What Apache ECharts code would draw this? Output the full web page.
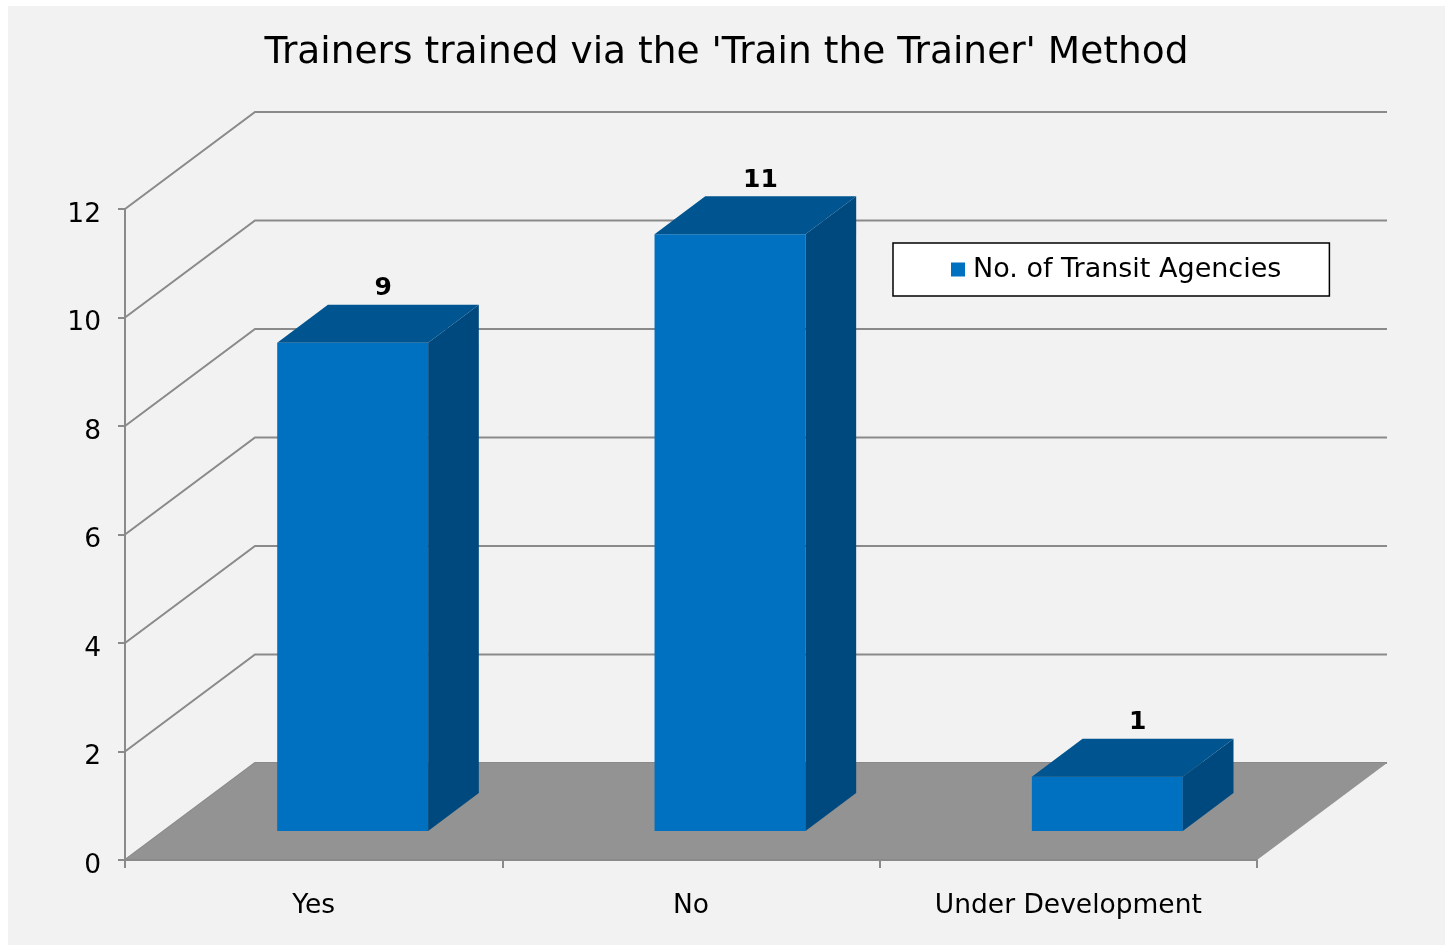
<!DOCTYPE html>
<html>
<head>
<meta charset="utf-8">
<script src="https://cdn.jsdelivr.net/npm/echarts@6/dist/echarts.min.js"></script>
<style>
html, body { margin: 0; padding: 0; background: #fff; }
#chart { width: 1453px; height: 947px; }
</style>
</head>
<body>
<div id="chart"></div>
<script>
var categories = ['Yes', 'No', 'Under Development'];
var agencies = [9, 11, 1];
var yTicks = [0, 2, 4, 6, 8, 10, 12];
var seriesName = 'No. of Transit Agencies';

var FONT = '"DejaVu Sans", Verdana, sans-serif';
var DX = 130, DY = -97;          // depth of the 3d box (px)
var FRONT = 0.3, DEPTH = 0.39;   // where the bars sit inside that depth
var BAR_W = 0.4;                 // bar width / band width
var GRID_C = '#8a8a8a';

function renderWall(params, api) {
    var cs = params.coordSys;
    var y = api.coord([0, api.value(1)])[1];
    var l = cs.x, r = cs.x + cs.width;
    return {
        type: 'polyline',
        shape: { points: [[l, y], [l + DX, y + DY], [r + DX, y + DY]] },
        style: { stroke: GRID_C, lineWidth: 2, fill: null }
    };
}

function renderFloor(params, api) {
    var cs = params.coordSys;
    var y = api.coord([0, 0])[1];
    var l = cs.x, r = cs.x + cs.width;
    return {
        type: 'polygon',
        shape: { points: [[l, y], [r, y], [r + DX, y + DY], [l + DX, y + DY]] },
        style: { fill: '#939393' }
    };
}

function renderBar(params, api) {
    var i = api.value(0), v = api.value(1);
    var base = api.coord([i, 0]), top = api.coord([i, v]);
    var band = api.size([1, 0])[0];
    var w = band * BAR_W;
    var dx = DEPTH * DX, dy = DEPTH * DY;
    var x0 = base[0] - w / 2 + FRONT * DX, x1 = x0 + w;
    var yb = base[1] + FRONT * DY, yt = top[1] + FRONT * DY;
    return {
        type: 'group',
        children: [
            { type: 'polygon', shape: { points: [[x0, yb], [x1, yb], [x1, yt], [x0, yt]] },
              style: { fill: '#0070c0' } },
            { type: 'polygon', shape: { points: [[x1, yb], [x1 + dx, yb + dy], [x1 + dx, yt + dy], [x1, yt]] },
              style: { fill: '#00497f' } },
            { type: 'polygon', shape: { points: [[x0, yt], [x1, yt], [x1 + dx, yt + dy], [x0 + dx, yt + dy]] },
              style: { fill: '#00548f' } },
            { type: 'text',
              style: { text: String(v), x: (x0 + x1) / 2 + dx * 0.6, y: yt + dy - 16,
                       align: 'center', verticalAlign: 'middle',
                       font: 'bold 25px ' + FONT, fill: '#000' } }
        ]
    };
}

var chart = echarts.init(document.getElementById('chart'));
var option = {
    backgroundColor: '#fff',
    animation: false,
    graphic: [{
        type: 'rect', z: -100, silent: true,
        shape: { x: 8, y: 6, width: 1437, height: 939 },
        style: { fill: '#f2f2f2' }
    }],
    title: {
        text: "Trainers trained via the 'Train the Trainer' Method",
        left: 'center',
        top: 29,
        textStyle: { fontFamily: FONT, fontSize: 37.5, fontWeight: 'normal', color: '#000' }
    },
    legend: {
        data: [seriesName],
        left: 893,
        top: 243,
        backgroundColor: '#fff',
        borderColor: '#000',
        borderWidth: 1.5,
        borderRadius: 0,
        padding: [13, 48, 13, 58],
        icon: 'rect',
        itemWidth: 14,
        itemHeight: 14,
        textStyle: { fontFamily: FONT, fontSize: 27, color: '#000', padding: [2, 0, 0, 3] }
    },
    grid: { left: 125, right: 196, top: 209, bottom: 87 },
    xAxis: {
        type: 'category',
        data: categories,
        z: 5,
        axisLine: { lineStyle: { color: GRID_C, width: 2 } },
        axisTick: { show: true, length: 8, lineStyle: { color: GRID_C, width: 2 } },
        axisLabel: { fontFamily: FONT, fontSize: 26.5, color: '#000', margin: 33 }
    },
    yAxis: {
        type: 'value',
        min: 0,
        max: 12,
        interval: 2,
        z: 5,
        axisLine: { show: true, lineStyle: { color: GRID_C, width: 2 } },
        axisTick: { show: true, length: 7, lineStyle: { color: GRID_C, width: 2 } },
        splitLine: { show: false },
        axisLabel: { fontFamily: FONT, fontSize: 26.5, color: '#000', margin: 24,
                     verticalAlign: 'top', lineHeight: 12 }
    },
    series: [
        {
            type: 'custom',
            name: 'walls',
            renderItem: renderWall,
            silent: true,
            z: 1,
            data: yTicks.map(function (t) { return [0, t]; })
        },
        {
            type: 'custom',
            name: 'floor',
            renderItem: renderFloor,
            silent: true,
            z: 2,
            data: [[0, 0]]
        },
        {
            type: 'custom',
            name: seriesName,
            renderItem: renderBar,
            z: 3,
            itemStyle: { color: '#0070c0' },
            encode: { x: 0, y: 1 },
            data: agencies.map(function (v, i) { return [i, v]; })
        }
    ]
};
chart.setOption(option);
</script>
</body>
</html>
